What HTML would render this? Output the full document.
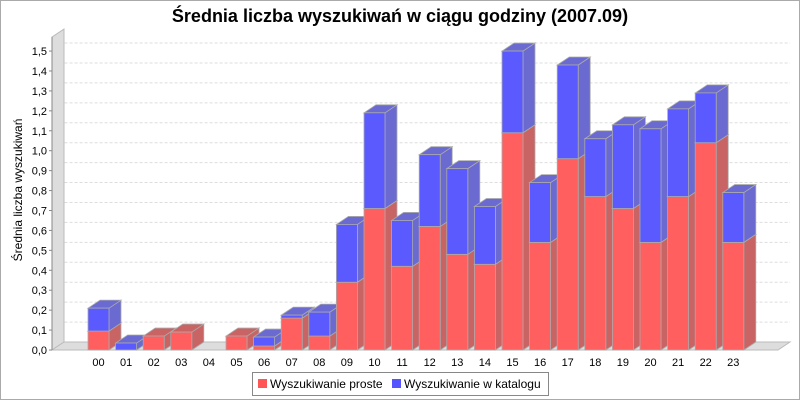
<!DOCTYPE html>
<html><head><meta charset="utf-8"><style>
body{margin:0;background:#fff;}
svg{display:block;font-family:"Liberation Sans",sans-serif;}
</style></head><body>
<svg id="c" width="800" height="400">
<rect x="0.5" y="0.5" width="799" height="399" fill="#fff" stroke="#aaa"/>
<text x="400" y="22" text-anchor="middle" font-size="18" font-weight="bold" fill="#000">Średnia liczba wyszukiwań w ciągu godziny (2007.09)</text>
<text transform="translate(22,190) rotate(-90)" text-anchor="middle" font-size="12">Średnia liczba wyszukiwań</text>
<g id="grid"></g><g id="bars"></g><g id="axis"></g>
<g>
<rect x="252.5" y="372.5" width="296" height="23" fill="#fff" stroke="#888"/>
<rect x="258" y="379" width="9" height="9" fill="#ff5555"/>
<text x="270" y="388" font-size="12">Wyszukiwanie proste</text>
<rect x="392" y="379" width="9" height="9" fill="#5555ff"/>
<text x="404" y="388" font-size="12">Wyszukiwanie w katalogu</text>
</g>
</svg>
<script>
const categories=["00","01","02","03","04","05","06","07","08","09","10","11","12","13","14","15","16","17","18","19","20","21","22","23"];
const simple=[0.095,0,0.07,0.09,0,0.07,0.02,0.16,0.07,0.34,0.71,0.42,0.62,0.48,0.43,1.09,0.54,0.96,0.77,0.71,0.54,0.77,1.04,0.54];
const catalog=[0.115,0.035,0,0,0,0,0.045,0.015,0.12,0.29,0.48,0.23,0.36,0.43,0.29,0.41,0.30,0.47,0.29,0.42,0.57,0.44,0.25,0.25];
const ticks=[0,0.1,0.2,0.3,0.4,0.5,0.6,0.7,0.8,0.9,1.0,1.1,1.2,1.3,1.4,1.5];
const NS="http://www.w3.org/2000/svg";
const X0=52,X1=778,Y0=350,DX=12,DY=8,PPU=199.3;
const y=v=>Y0-v*PPU;
const step=27.6,c0=98.5,bw=21;
const cx=i=>c0+i*step;
function mk(p,tag,at){const e=document.createElementNS(NS,tag);for(const k in at)e.setAttribute(k,at[k]);p.appendChild(e);return e;}
const G=document.getElementById('grid'),B=document.getElementById('bars'),A=document.getElementById('axis');
// walls
let e=mk(G,'polygon',{points:`${X0},${Y0} ${X0+DX},${Y0-DY} ${X0+DX},${y(1.5)-14-DY} ${X0},${y(1.5)-14}`,fill:'#ddd',stroke:'#bbb'});

e=mk(G,'polygon',{points:`${X0},${Y0} ${X1},${Y0} ${X1+DX},${Y0-DY} ${X0+DX},${Y0-DY}`,fill:'#ddd',stroke:'#bbb'});

ticks.forEach(t=>{
 if(t>0){
 const l=mk(G,'path',{d:`M${X0},${y(t)} L${X0+DX},${y(t)-DY} L${X1+DX},${y(t)-DY}`,fill:'none',stroke:'#ddd','stroke-dasharray':'3,2'});
 }
 const tk=mk(A,'line',{x1:X0-3,x2:X0,y1:y(t),y2:y(t),stroke:'#888'});
 
 const tx=mk(A,'text',{x:X0-5,y:y(t)+4,'text-anchor':'end','font-size':'11'});tx.textContent=t.toFixed(1).replace('.',',');
 
});
e=mk(A,'line',{x1:X0,x2:X0,y1:Y0,y2:y(1.5)-14,stroke:'#888'});

function box(v0,v1,i,front,side,name){
 if(v1-v0<=0)return;
 const g=mk(B,'g',{});
 
 const l=cx(i)-bw/2,r=l+bw,t=y(v1),b=y(v0);
 mk(g,'polygon',{points:`${r},${b} ${r+DX},${b-DY} ${r+DX},${t-DY} ${r},${t}`,fill:side,stroke:'#aaa','stroke-width':0.8});
 mk(g,'polygon',{points:`${l},${t} ${l+DX},${t-DY} ${r+DX},${t-DY} ${r},${t}`,fill:side,stroke:'#aaa','stroke-width':0.8});
 mk(g,'rect',{x:l,y:t,width:bw,height:b-t,fill:front,stroke:'#aaa','stroke-width':0.8});
}
categories.forEach((c,i)=>{
 box(0,simple[i],i,'#ff5f5f','#c86464','bar-simple-'+c);
 box(simple[i],simple[i]+catalog[i],i,'#5a5aff','#6a6ad0','bar-catalog-'+c);
 const tx=mk(A,'text',{x:cx(i),y:Y0+16,'text-anchor':'middle','font-size':'11'});tx.textContent=c;
 
});
</script>
</body></html>
